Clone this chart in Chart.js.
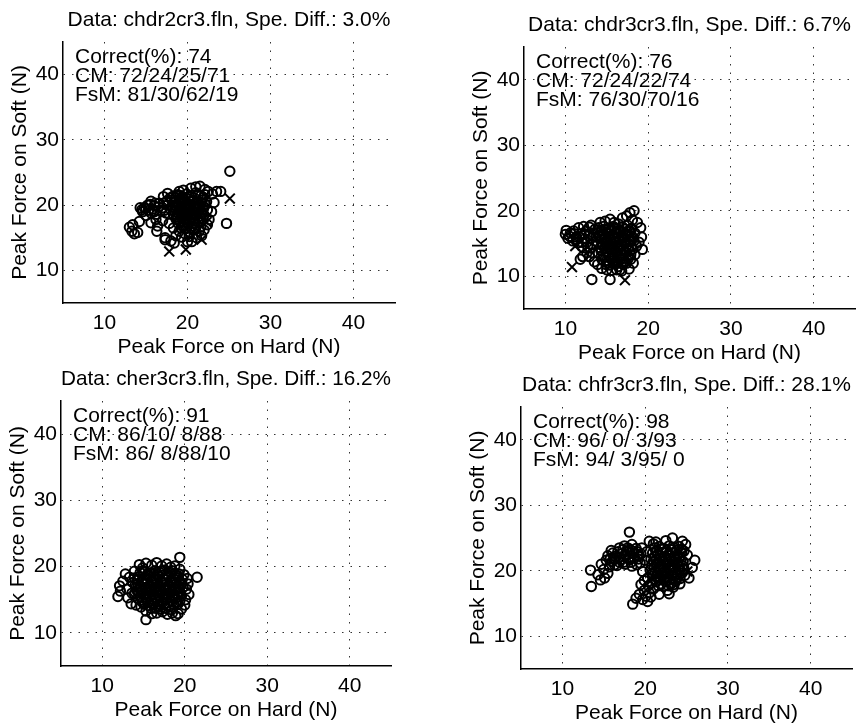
<!DOCTYPE html>
<html>
<head>
<meta charset="utf-8">
<title>Peak force on hard vs soft</title>
<script src="https://cdn.jsdelivr.net/npm/chart.js@4.4.1/dist/chart.umd.min.js"></script>
<style>
  html, body { margin: 0; padding: 0; background: #fff; overflow: hidden; }
  #page { position: relative; width: 864px; height: 728px; }
  #page canvas { position: absolute; }
</style>
</head>
<body>
<div id="page"></div>
<script>
const tickValues = [10, 20, 30, 40];
const axisMin = 5;
const axisMax = 45;
const xLabel = 'Peak Force on Hard (N)';
const yLabel = 'Peak Force on Soft (N)';

const titles = [
    'Data: chdr2cr3.fln, Spe. Diff.: 3.0%',
    'Data: chdr3cr3.fln, Spe. Diff.: 6.7%',
    'Data: cher3cr3.fln, Spe. Diff.: 16.2%',
    'Data: chfr3cr3.fln, Spe. Diff.: 28.1%'
];

const notes = [
    ['Correct(%): 74', 'CM: 72/24/25/71', 'FsM: 81/30/62/19'],
    ['Correct(%): 76', 'CM: 72/24/22/74', 'FsM: 76/30/70/16'],
    ['Correct(%): 91', 'CM: 86/10/ 8/88', 'FsM: 86/ 8/88/10'],
    ['Correct(%): 98', 'CM: 96/ 0/ 3/93', 'FsM: 94/ 3/95/ 0']
];

// [hard, soft] pairs
const circles1 = [
    [25.1,25.2],[24.7,17.2],[24.0,22.1],[13.0,16.6],[13.3,16.0],[13.6,15.6],[13.4,17.0],[14.0,15.8],
    [14.2,17.5],[14.3,19.6],[14.6,19.0],[15.0,18.4],[15.6,20.6],[15.3,19.2],[16.3,16.0],[16.4,16.8],
    [16.0,19.9],[16.6,20.3],[17.3,15.0],[17.3,14.7],[17.1,21.3],[17.6,21.8],[18.0,14.5],[18.4,14.2],
    [18.3,16.5],[19.0,22.1],[19.5,22.3],[19.5,16.7],[20.0,14.4],[20.5,14.4],[20.4,22.6],[21.0,22.8],
    [21.5,22.9],[21.1,15.0],[21.7,15.3],[22.1,22.4],[22.5,22.1],[23.0,21.7],[23.5,22.1],[22.9,19.0],
    [22.6,17.8],[22.4,17.0],[23.2,20.4],[22.0,16.2],[21.4,16.0],
    [14.8,19.6],[15.2,20.0],[15.8,19.4],[16.3,18.6],[16.8,19.2],[17.1,20.3],[17.4,18.8],[17.0,17.6],
    [17.8,17.2],[15.6,17.3],[16.2,17.8],
    [14.5,19.3],[15.0,19.5],[15.5,20.1],[16.1,20.3],[16.5,19.7],[17.0,19.6],[17.6,20.0],[17.9,21.1],
    [17.5,20.6],[16.0,19.0],[15.6,18.8],[17.2,19.2],
    [18.3,21.4],[18.8,21.6],[19.3,21.2],[19.9,21.7],[20.5,21.3],[21.0,21.9],[21.6,21.4],[22.1,21.6],
    [18.6,21.1],[19.1,21.5],[19.6,20.9],[20.2,21.4],[20.8,21.1],[21.3,21.6],[21.9,21.2],
    [18.1,20.8],[18.6,20.6],[19.1,20.9],[19.6,20.5],[20.1,20.9],[20.7,20.7],[21.2,20.4],[21.8,20.8],[22.3,20.5],
    [18.4,20.4],[18.9,20.3],[19.4,20.6],[19.9,20.3],[20.5,20.5],[21.0,20.2],[21.6,20.4],[22.1,20.2],
    [18.4,20.0],[18.9,19.9],[19.4,20.2],[19.9,19.8],[20.4,20.1],[20.9,19.8],[21.4,20.0],[22.0,19.7],
    [18.2,19.7],[18.7,19.8],[19.3,19.6],[19.8,19.9],[20.3,19.7],[20.8,19.5],[21.3,19.7],[21.9,19.4],
    [18.0,19.3],[18.5,19.5],[19.1,19.2],[19.6,19.5],[20.2,19.3],[20.6,19.1],[21.1,19.4],[21.7,19.0],[22.4,19.3],
    [18.5,19.0],[19.0,18.6],[19.6,19.0],[20.1,18.9],[20.7,18.6],[21.2,18.9],[21.8,18.7],
    [18.3,18.6],[18.8,18.8],[19.3,18.4],[19.9,18.7],[20.4,18.5],[21.0,18.8],[21.5,18.3],[22.0,18.5],
    [18.8,18.2],[19.3,18.1],[19.8,18.3],[20.4,18.1],[21.0,18.3],[21.6,18.0],
    [18.6,17.9],[19.1,17.6],[19.7,18.0],[20.2,17.7],[20.8,17.9],[21.3,17.5],[21.9,17.8],
    [19.1,17.4],[19.6,17.4],[20.3,17.4],[20.9,17.3],[21.4,17.3],
    [18.9,17.2],[19.4,16.9],[20.0,17.1],[20.6,16.8],[21.1,17.0],[21.6,16.6],
    [19.2,16.5],[19.8,16.4],[20.4,16.5],[21.0,16.5],
    [19.0,16.0],[19.7,15.6],[20.3,15.9],[20.8,16.2],[18.6,15.3],[19.3,15.1],[20.2,15.2]
];
const crosses1 = [[25.1,21.0],[17.8,12.9],[19.8,13.2],[21.7,14.7],[22.3,17.4],[20.6,15.3]];

const circles2 = [
    [13.2,9.5],[15.4,9.5],
    [10.0,16.4],[10.1,17.0],[10.3,15.8],[10.6,16.6],[10.9,15.4],[11.0,16.9],[11.3,16.0],[11.6,17.4],
    [11.5,15.1],[11.9,16.5],[12.2,17.6],[12.3,15.7],[12.0,14.5],[12.5,16.9],[12.8,16.2],[12.9,17.5],
    [12.6,13.6],[12.1,13.0],[12.9,13.0],[11.8,12.6],[13.3,14.8],[13.1,17.8],[13.6,17.2],[13.5,12.2],
    [13.9,11.8],[13.7,16.0],
    [10.5,16.1],[11.1,16.5],[11.7,16.0],[12.3,16.4],[12.6,15.2],[13.1,15.8],[13.4,16.6],[11.4,15.6],
    [12.0,15.2],[13.0,14.3],[12.7,14.5],[13.3,13.6],
    [14.2,18.2],[14.8,18.4],[15.4,18.7],[15.9,18.2],[16.4,18.0],[16.9,18.9],[17.4,19.2],[17.8,19.7],
    [18.3,20.0],[18.1,18.6],[18.7,18.2],
    [19.1,17.4],[19.2,16.0],[18.9,15.2],[19.3,14.1],[18.6,14.6],[18.4,13.3],[18.2,12.0],[17.7,11.1],[17.9,12.6],
    [16.8,10.8],[16.2,11.0],[15.6,10.9],[15.0,11.0],[14.4,11.2],[14.9,11.8],
    [14.0,17.4],[14.6,17.6],[15.2,17.3],[15.8,17.6],[16.3,17.2],[16.9,17.5],[17.5,17.8],[18.0,17.3],
    [14.3,17.0],[14.9,17.2],[15.5,17.1],[16.0,17.3],[16.6,17.1],[17.2,17.2],[17.7,17.0],
    [13.9,16.6],[14.4,16.9],[15.0,16.7],[15.5,16.9],[16.1,16.6],[16.6,16.8],[17.2,16.5],[17.8,16.8],[18.4,16.6],
    [14.1,16.3],[14.7,16.4],[15.2,16.5],[15.7,16.3],[16.3,16.4],[16.8,16.2],[17.4,16.4],[18.0,16.2],
    [14.2,16.0],[14.7,15.8],[15.3,16.1],[15.9,15.7],[16.4,16.0],[17.0,15.8],[17.6,16.1],[18.1,15.7],
    [14.4,15.6],[15.0,15.5],[15.5,15.6],[16.1,15.4],[16.6,15.6],[17.2,15.5],[17.7,15.6],[18.3,15.4],
    [13.9,15.2],[14.5,15.0],[15.1,15.3],[15.6,14.9],[16.2,15.2],[16.7,14.9],[17.3,15.1],[17.9,15.3],
    [14.5,14.7],[15.1,14.8],[15.7,14.6],[16.3,14.7],[16.8,14.6],[17.4,14.7],[18.0,14.6],
    [14.2,14.4],[14.8,14.2],[15.4,14.5],[15.9,14.1],[16.5,14.4],[17.0,14.0],[17.6,14.3],[18.1,14.1],
    [14.3,13.9],[14.9,13.8],[15.5,14.0],[16.1,13.8],[16.6,13.9],[17.2,13.8],[17.8,13.9],
    [14.0,13.5],[14.6,13.3],[15.2,13.6],[15.7,13.2],[16.3,13.5],[16.9,13.2],[17.4,13.6],[17.9,13.3],
    [14.7,12.9],[15.3,13.1],[15.9,12.8],[16.5,13.0],[17.0,12.7],[17.6,13.1],
    [14.4,12.6],[15.0,12.4],[15.5,12.7],[16.1,12.3],[16.6,12.6],[17.2,12.2],[17.6,12.7],
    [15.1,12.1],[15.7,12.3],[16.3,12.0],[16.8,12.2],[17.4,12.0],
    [15.3,11.7],[15.9,11.9],[16.4,11.5],[17.0,11.8],[16.6,11.0]
];
const crosses2 = [[10.8,11.4],[17.2,9.4],[11.2,14.6]];

const circles3 = [
    [19.4,21.4],[21.5,18.4],[15.3,12.0],[18.9,12.6],[11.9,15.5],
    [12.2,16.3],[12.1,17.1],[12.5,17.8],[12.8,18.9],[13.3,18.4],[13.1,15.3],[13.5,14.4],[13.9,19.3],
    [14.5,20.3],[14.9,19.8],[15.3,20.5],[16.0,20.2],[16.6,20.6],[17.2,20.1],[17.8,20.4],[18.3,19.9],
    [18.8,20.1],[19.4,19.6],[19.9,18.8],[20.3,18.2],[20.4,17.4],[20.2,16.6],[20.5,15.8],[20.1,15.0],
    [20.0,14.2],[19.6,13.6],[19.2,12.9],[18.5,13.0],[17.9,12.8],[17.3,13.2],[16.6,13.0],[16.0,12.9],
    [15.3,13.3],[14.7,13.9],[14.1,14.2],[13.6,16.0],[13.0,16.6],
    [14.6,19.1],[15.2,19.3],[15.8,19.0],[16.4,19.4],[17.0,19.1],[17.6,19.5],[18.2,19.2],[18.8,19.0],[19.3,18.9],
    [14.9,19.4],[15.5,18.9],[16.1,19.1],[16.7,18.9],[17.3,19.3],[17.9,18.9],[18.5,19.4],[19.0,18.7],
    [13.9,18.3],[14.5,18.5],[15.1,18.2],[15.7,18.6],[16.2,18.3],[16.8,18.5],[17.4,18.2],[18.0,18.6],[18.6,18.3],[19.2,18.5],[19.7,18.1],
    [14.2,18.0],[14.8,17.9],[15.4,18.1],[16.0,17.9],[16.5,18.0],[17.1,17.9],[17.7,18.0],[18.3,17.9],[18.9,18.0],[19.4,17.8],
    [13.7,17.6],[14.3,17.4],[14.9,17.7],[15.4,17.5],[16.0,17.7],[16.6,17.4],[17.2,17.6],[17.8,17.4],[18.4,17.7],[19.0,17.5],[19.6,17.3],
    [14.0,17.2],[14.6,17.1],[15.1,17.3],[15.7,17.1],[16.3,17.2],[16.9,17.0],[17.5,17.2],[18.1,17.0],[18.7,17.2],[19.3,17.0],
    [14.1,16.9],[14.6,16.6],[15.2,16.8],[15.8,16.5],[16.4,16.9],[17.0,16.6],[17.5,16.8],[18.1,16.5],[18.7,16.8],[19.3,16.6],[19.8,16.9],
    [14.2,16.4],[14.8,16.3],[15.4,16.4],[16.0,16.2],[16.5,16.4],[17.1,16.3],[17.7,16.4],[18.3,16.2],[18.9,16.4],[19.4,16.2],
    [13.9,15.9],[14.4,16.1],[15.0,15.8],[15.6,16.0],[16.2,15.7],[16.7,16.1],[17.3,15.8],[17.9,16.0],[18.5,15.7],[19.1,16.0],[19.6,15.6],
    [14.6,15.5],[15.2,15.4],[15.8,15.5],[16.4,15.4],[16.9,15.6],[17.5,15.4],[18.1,15.5],[18.7,15.4],[19.2,15.5],
    [14.3,15.2],[14.8,14.9],[15.4,15.1],[16.0,14.8],[16.5,15.2],[17.1,14.9],[17.7,15.1],[18.3,14.8],[18.9,15.2],[19.4,14.8],
    [14.9,14.6],[15.5,14.6],[16.1,14.5],[16.7,14.7],[17.3,14.6],[17.9,14.5],[18.5,14.7],[19.0,14.6],
    [15.1,14.3],[15.7,14.1],[16.3,14.4],[16.9,14.0],[17.5,14.3],[18.1,13.9],[18.7,14.2],[19.2,14.4],
    [15.9,13.7],[16.5,13.7],[17.1,13.6],[17.7,13.7],[18.4,13.5]
];
const crosses3 = [[16.5,17.0],[17.8,16.2]];

const circles4 = [
    [13.4,20.1],[13.5,17.6],[14.3,19.4],[14.6,18.6],[15.1,18.9],[14.7,21.0],[15.0,20.2],[15.5,19.6],
    [15.3,21.6],[15.5,22.3],[15.9,23.1],[16.0,21.4],[16.4,22.2],[16.9,23.5],[16.6,20.8],[17.2,22.6],
    [17.4,21.3],[17.8,23.0],[17.5,23.8],[18.1,25.9],[18.4,24.0],[18.0,22.0],[18.6,22.6],[18.3,21.3],
    [18.9,23.4],[19.2,21.8],[19.5,22.6],[19.0,20.9],[16.3,20.9],[17.0,21.7],[17.7,22.3],[18.2,23.2],[19.6,23.5],
    [16.1,22.7],[16.7,22.9],[17.3,23.2],[17.9,23.5],[18.5,23.0],[19.1,22.9],
    [16.2,21.8],[16.8,22.0],[17.4,22.2],[18.1,21.7],[18.7,21.9],[19.3,22.3],
    [15.7,20.6],[16.9,21.3],[17.6,21.0],[18.4,20.7],[19.4,21.2],[15.8,21.9],
    [19.7,19.9],[20.0,21.6],[20.5,24.5],[20.2,22.9],[21.0,24.1],[21.3,24.4],
    [19.5,17.9],[20.3,18.9],[20.5,16.6],[18.5,14.9],[18.9,15.8],[19.7,15.6],[20.3,15.3],[20.7,16.0],[21.0,17.2],[20.4,17.7],
    [19.9,17.0],[20.1,16.1],[19.3,16.4],[20.8,18.2],[19.9,18.5],
    [23.3,25.0],[22.5,24.6],[24.5,24.5],[24.9,24.0],[26.0,21.6],[25.7,20.5],[25.3,18.9],[24.8,19.3],
    [23.5,17.9],[22.7,17.0],[21.7,16.4],[22.9,16.5],[24.2,18.0],[25.1,22.4],[24.7,23.0],
    [21.1,23.5],[21.7,23.7],[22.3,23.4],[22.9,23.8],[23.5,23.5],[24.1,23.7],
    [21.4,23.1],[22.0,23.3],[22.6,23.1],[23.2,23.2],[23.8,23.1],[24.4,23.3],
    [20.9,22.7],[21.5,22.5],[22.1,22.8],[22.7,22.4],[23.3,22.7],[23.9,22.5],[24.4,22.8],
    [21.2,22.2],[21.8,22.3],[22.4,22.1],[23.0,22.3],[23.6,22.1],[24.2,22.2],
    [20.7,21.8],[21.3,21.6],[21.9,21.9],[22.5,21.6],[23.1,21.9],[23.7,21.7],[24.3,21.5],
    [21.0,21.4],[21.6,21.3],[22.2,21.5],[22.8,21.3],[23.4,21.4],[24.0,21.3],[24.6,21.4],
    [20.8,20.9],[21.4,21.1],[22.0,20.8],[22.6,21.0],[23.2,20.7],[23.8,21.0],[24.5,20.8],
    [21.1,20.5],[21.7,20.6],[22.3,20.4],[22.9,20.5],[23.5,20.4],[24.1,20.6],[24.7,20.3],
    [20.6,20.1],[21.2,19.9],[21.8,20.2],[22.4,19.9],[23.0,20.1],[23.6,19.8],[24.2,20.1],
    [20.9,19.6],[21.5,19.6],[22.1,19.7],[22.7,19.5],[23.3,19.6],[23.9,19.5],[24.5,19.7],
    [20.9,19.2],[21.5,18.9],[22.1,19.2],[22.7,18.9],[23.3,19.2],[23.9,18.9],
    [21.2,18.7],[21.8,18.6],[22.4,18.7],[23.0,18.6],[23.6,18.7],[24.2,18.8],
    [21.3,18.3],[21.9,18.0],[22.5,18.3],[23.1,18.0],[23.7,18.4],
    [21.6,17.7],[22.2,17.6],[22.8,17.7],[23.4,17.5]
];
const crosses4 = [[25.1,19.9]];

const circleSets = [circles1, circles2, circles3, circles4];
const crossSets = [crosses1, crosses2, crosses3, crosses4];

// plot area of each panel on the page: left, top, right, bottom
const plotBoxes = [
    [63, 42, 400, 303],
    [524, 47, 860, 309],
    [61, 401, 396, 666],
    [521, 407, 857, 669]
];
const yAxisWidth = 63;
const xAxisHeight = 62;
const titleHeight = 42;

const FONT = "'Liberation Sans', Arial, Helvetica, sans-serif";
Chart.defaults.font.family = FONT;
Chart.defaults.font.size = 21;
Chart.defaults.color = '#000';

const notesPlugin = {
    id: 'notes',
    afterDatasetsDraw(chart, args, opts) {
        const ctx = chart.ctx;
        const area = chart.chartArea;
        ctx.save();
        ctx.font = '21px ' + FONT;
        ctx.fillStyle = '#000';
        ctx.textBaseline = 'alphabetic';
        opts.lines.forEach((line, i) => {
            ctx.fillText(line, area.left + 12, area.top + 21 + i * 19);
        });
        ctx.restore();
    }
};

function makeAxis(label, isX) {
    return {
        type: 'linear',
        min: axisMin,
        max: axisMax,
        afterBuildTicks: scale => {
            scale.ticks = tickValues.map(v => ({value: v}));
        },
        afterFit: scale => {
            if (isX) scale.height = xAxisHeight;
            else scale.width = yAxisWidth;
        },
        ticks: {padding: isX ? 8 : 4, font: {size: 21}},
        grid: {color: '#333', lineWidth: 1, drawTicks: false},
        border: {color: '#000', width: 1.5, dash: [1.5, 7]},
        title: {
            display: true,
            text: label,
            font: {size: 21, lineHeight: '24px'},
            padding: isX ? {top: 0, bottom: 6} : {top: 8, bottom: 0}
        }
    };
}

function toPoints(pairs) {
    return pairs.map(p => ({x: p[0], y: p[1]}));
}

function makePanel(i) {
    const [x0, y0, x1, y1] = plotBoxes[i];
    const canvas = document.createElement('canvas');
    canvas.width = (x1 - x0) + yAxisWidth + 4;
    canvas.height = (y1 - y0) + titleHeight + xAxisHeight;
    canvas.style.left = (x0 - yAxisWidth) + 'px';
    canvas.style.top = (y0 - titleHeight) + 'px';
    document.getElementById('page').appendChild(canvas);

    new Chart(canvas, {
        type: 'scatter',
        data: {
            datasets: [{
                label: 'circles',
                data: toPoints(circleSets[i]),
                pointStyle: 'circle',
                pointRadius: 4.7,
                pointBorderWidth: 2,
                pointBorderColor: '#000',
                pointBackgroundColor: 'rgba(0,0,0,0)'
            }, {
                label: 'crosses',
                data: toPoints(crossSets[i]),
                pointStyle: 'crossRot',
                pointRadius: 7,
                pointBorderWidth: 2,
                pointBorderColor: '#000',
                pointBackgroundColor: 'rgba(0,0,0,0)'
            }]
        },
        options: {
            responsive: false,
            animation: false,
            events: [],
            devicePixelRatio: 1,
            layout: {padding: {left: 0, top: 0, right: 4, bottom: 0}},
            scales: {
                x: makeAxis(xLabel, true),
                y: makeAxis(yLabel, false)
            },
            plugins: {
                legend: {display: false},
                tooltip: {enabled: false},
                title: {
                    display: true,
                    text: titles[i],
                    fullSize: false,
                    font: {size: 21, weight: 'normal', lineHeight: '24px'},
                    padding: {top: 8, bottom: 10}
                },
                notes: {lines: notes[i]}
            }
        },
        plugins: [notesPlugin]
    });
}

for (let i = 0; i < 4; i++) {
    makePanel(i);
}
</script>
</body>
</html>
